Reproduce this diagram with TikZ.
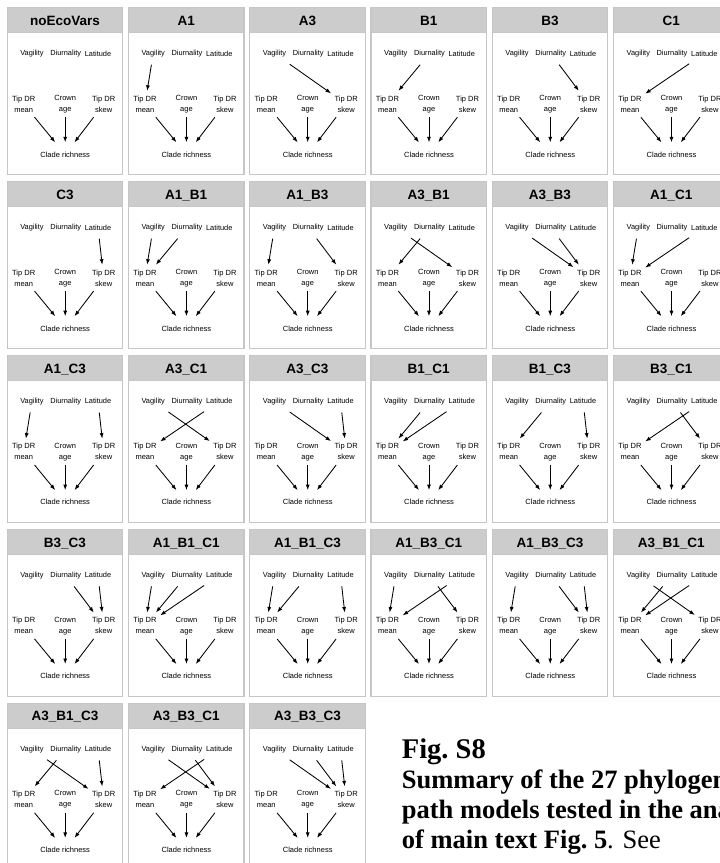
\documentclass[tikz,border=0pt]{standalone}
\usepackage{fontspec}
\setmainfont{Liberation Serif}
\newfontfamily\panelfont{Liberation Sans}
\usetikzlibrary{arrows.meta}
\tikzset{
  panelbox/.style={draw=gray!45, line width=1.1pt, fill=white},
  headbox/.style={fill=gray!40, draw=gray!45, line width=1.1pt},
  ptitle/.style={font=\panelfont\bfseries\fontsize{13.5}{14}\selectfont, inner sep=0pt, anchor=base},
  topvar/.style={font=\panelfont\fontsize{7.4}{9}\selectfont, minimum width=30pt, minimum height=22pt, inner sep=0pt},
  midvar/.style={font=\panelfont\fontsize{7.5}{11}\selectfont, align=center, minimum width=30pt, minimum height=26pt, inner sep=0pt},
  botvar/.style={font=\panelfont\fontsize{7.5}{9}\selectfont, minimum width=60pt, minimum height=24pt, inner sep=0pt},
  arr/.style={-{Latex[length=5.5pt,width=4pt]}, line width=0.85pt},
  capbig/.style={font=\bfseries\fontsize{28.5}{30}\selectfont, inner sep=0pt, anchor=base west},
  captxt/.style={font=\fontsize{26.5}{30}\selectfont, inner sep=0pt, anchor=base west},
}
\newcommand\mypanel[5]{%
  \begin{scope}[shift={({7.2+121.26*#1},{7.5+173.9*#2})}]
    \draw[panelbox] (0,0) rectangle (115.5,167);
    \draw[headbox] (0,0) rectangle (115.5,25);
    \node[ptitle] (#4t) at (57.75,17.8) {#3};
    \node[topvar] (#4v) at (24.8,46) {Vagility};
    \node[topvar] (#4d) at (58.5,46) {Diurnality};
    \node[topvar] (#4l) at (90.8,46) {Latitude};
    \node[midvar] (#4m) at (16.5,96.5) {Tip DR\\mean};
    \node[midvar] (#4c) at (58,96.5) {Crown\\age};
    \node[midvar] (#4s) at (96.5,96.5) {Tip DR\\skew};
    \node[botvar] (#4r) at (58,147) {Clade richness};
    \foreach \a/\b in {m/r,c/r,s/r#5} {\draw[arr] (#4\a) -- (#4\b);}
  \end{scope}}
\begin{document}
\begin{tikzpicture}[x=1pt,y=-1pt]
\useasboundingbox (0,0) rectangle (720,863);
\clip (0,0) rectangle (720,863);
\mypanel{0}{0}{noEcoVars}{pa}{}
\mypanel{1}{0}{A1}{pb}{,v/m}
\mypanel{2}{0}{A3}{pc}{,v/s}
\mypanel{3}{0}{B1}{pd}{,d/m}
\mypanel{4}{0}{B3}{pe}{,d/s}
\mypanel{5}{0}{C1}{pf}{,l/m}
\mypanel{0}{1}{C3}{pg}{,l/s}
\mypanel{1}{1}{A1\_B1}{ph}{,v/m,d/m}
\mypanel{2}{1}{A1\_B3}{pi}{,v/m,d/s}
\mypanel{3}{1}{A3\_B1}{pj}{,v/s,d/m}
\mypanel{4}{1}{A3\_B3}{pk}{,v/s,d/s}
\mypanel{5}{1}{A1\_C1}{pl}{,v/m,l/m}
\mypanel{0}{2}{A1\_C3}{pm}{,v/m,l/s}
\mypanel{1}{2}{A3\_C1}{pn}{,v/s,l/m}
\mypanel{2}{2}{A3\_C3}{po}{,v/s,l/s}
\mypanel{3}{2}{B1\_C1}{pp}{,d/m,l/m}
\mypanel{4}{2}{B1\_C3}{pq}{,d/m,l/s}
\mypanel{5}{2}{B3\_C1}{pr}{,d/s,l/m}
\mypanel{0}{3}{B3\_C3}{ps}{,d/s,l/s}
\mypanel{1}{3}{A1\_B1\_C1}{pt}{,v/m,d/m,l/m}
\mypanel{2}{3}{A1\_B1\_C3}{pu}{,v/m,d/m,l/s}
\mypanel{3}{3}{A1\_B3\_C1}{pv}{,v/m,d/s,l/m}
\mypanel{4}{3}{A1\_B3\_C3}{pw}{,v/m,d/s,l/s}
\mypanel{5}{3}{A3\_B1\_C1}{px}{,v/s,d/m,l/m}
\mypanel{0}{4}{A3\_B1\_C3}{py}{,v/s,d/m,l/s}
\mypanel{1}{4}{A3\_B3\_C1}{pz}{,v/s,d/s,l/m}
\mypanel{2}{4}{A3\_B3\_C3}{qa}{,v/s,d/s,l/s}
\node[capbig] (fig) at (401.7,758.3) {Fig.\ S8};
\node[captxt] (cap1) at (401.7,788.3) {\textbf{Summary of the 27 phylogenetic}};
\node[captxt] (cap2) at (401.7,818.0) {\textbf{path models tested in the analysis}};
\node[captxt] (cap3) at (401.7,848.3) {\textbf{of main text Fig.\ 5}. See};
\end{tikzpicture}
\end{document}
